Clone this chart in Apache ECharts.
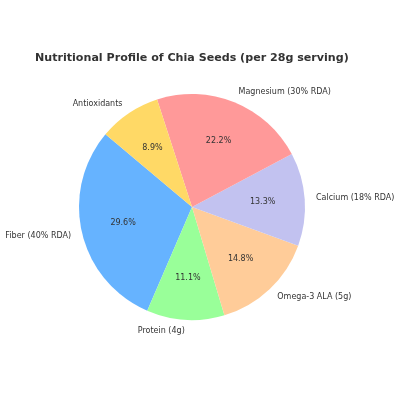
<!DOCTYPE html>
<html>
<head>
<meta charset="utf-8">
<script src="https://cdn.jsdelivr.net/npm/echarts@6/dist/echarts.min.js"></script>
<style>
  html, body { margin: 0; padding: 0; background: #fff; }
  #chart { width: 400px; height: 400px; }
</style>
</head>
<body>
<div id="chart"></div>
<script>
const CATEGORIES = ['Fiber (40% RDA)', 'Protein (4g)', 'Omega-3 ALA (5g)', 'Calcium (18% RDA)', 'Magnesium (30% RDA)', 'Antioxidants']
const VALUES = [40, 15, 20, 18, 30, 12]
const COLORS = ['#66b3ff', '#99ff99', '#ffcc99', '#c2c2f0', '#ff9999', '#ffd966']

const R = 113
const CENTER = [192, 207]
const FONT = 'DejaVu Sans'

const slices = CATEGORIES.map((name, i) => ({ name, value: VALUES[i], itemStyle: { color: COLORS[i] } }))

const chart = echarts.init(document.getElementById('chart'))
chart.setOption({
  animation: false,
  title: {
    text: 'Nutritional Profile of Chia Seeds (per 28g serving)',
    left: 30,
    top: 48,
    textStyle: { fontFamily: FONT, fontSize: 11.1, fontWeight: 'bold', color: '#333' },
  },
  series: [
    {
      type: 'pie',
      center: CENTER,
      radius: [0, R],
      startAngle: 140,
      clockwise: false,
      silent: true,
      avoidLabelOverlap: false,
      data: slices,
      label: {
        position: 'outside',
        fontFamily: FONT,
        fontSize: 8,
        color: '#333',
        distanceToLabelLine: 0,
      },
      labelLine: { show: false, length: R * 0.1, length2: 0 },
    },
    {
      type: 'pie',
      center: CENTER,
      radius: [R * 0.2, R],
      startAngle: 140,
      clockwise: false,
      silent: true,
      data: CATEGORIES.map((name, i) => ({ name, value: VALUES[i], itemStyle: { color: 'transparent' } })),
      label: {
        position: 'inside',
        fontFamily: FONT,
        fontSize: 8,
        color: '#333',
        formatter: (p) => p.percent.toFixed(1) + '%',
      },
      labelLine: { show: false },
    },
  ],
})
</script>
</body>
</html>
